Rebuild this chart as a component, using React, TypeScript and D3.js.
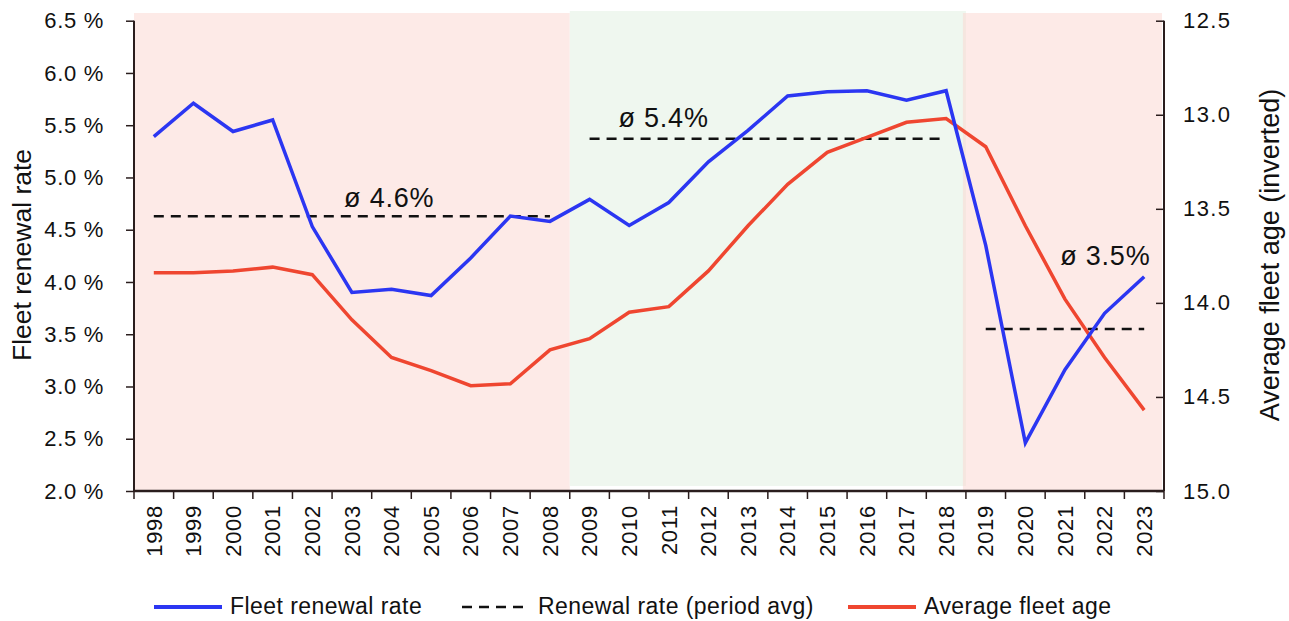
import React, { useEffect, useRef } from 'react';
import * as d3 from 'd3';

// values
const years = ['1998', '1999', '2000', '2001', '2002', '2003', '2004', '2005', '2006', '2007', '2008', '2009', '2010',
  '2011', '2012', '2013', '2014', '2015', '2016', '2017', '2018', '2019', '2020', '2021', '2022', '2023'];
const renewalRate = [5.39, 5.71, 5.44, 5.55, 4.53, 3.90, 3.93, 3.87, 4.23, 4.63, 4.58, 4.79, 4.54,
  4.76, 5.15, 5.45, 5.78, 5.82, 5.83, 5.74, 5.83, 4.35, 2.46, 3.16, 3.70, 4.05];
const fleetAge = [13.84, 13.84, 13.83, 13.81, 13.85, 14.09, 14.29, 14.36, 14.44, 14.43, 14.25, 14.19, 14.05,
  14.02, 13.83, 13.59, 13.37, 13.20, 13.12, 13.04, 13.02, 13.17, 13.59, 13.98, 14.29, 14.57];

const periodStart = ['1998', '2009', '2019'];
const periodEnd = ['2008', '2018', '2023'];
const periodAvg = [4.63, 5.37, 3.55];
const periodLabels = ['ø 4.6%', 'ø 5.4%', 'ø 3.5%'];
const periodShade = ['bad', 'good', 'bad'];

const leftTicks = [2.0, 2.5, 3.0, 3.5, 4.0, 4.5, 5.0, 5.5, 6.0, 6.5];
const rightTicks = [12.5, 13.0, 13.5, 14.0, 14.5, 15.0];

const BLUE = '#2b36f2';
const RED = '#ef4630';
const FONT = '"Liberation Sans", Arial, sans-serif';

const App = () => {
  const ref = useRef<SVGSVGElement>(null);

  useEffect(() => {
    const svg = d3.select(ref.current);
    svg.selectAll('*').remove();

    const left = 134, right = 1164, top = 20.7, bottom = 491;

    const x = d3.scaleBand<string>().domain(years).range([left, right]).padding(0);
    const cx = (d: string) => (x(d) as number) + x.bandwidth() / 2;
    const yL = d3.scaleLinear().domain([2, 6.5]).range([bottom, top]);
    const yR = d3.scaleLinear().domain([12.5, 15]).range([top, bottom]);

    // background shading per period
    const bg = svg.append('g');
    periodStart.forEach((s, i) => {
      const x0 = x(s) as number;
      const x1 = (x(periodEnd[i]) as number) + x.bandwidth();
      const good = periodShade[i] === 'good';
      bg.append('rect')
        .attr('x', i === 2 ? x0 - 3 : x0)
        .attr('y', good ? 11 : 13)
        .attr('width', (i === 2 ? x1 - 2 : x1) - (i === 2 ? x0 - 3 : x0))
        .attr('height', good ? 486 - 11 : bottom - 13)
        .attr('fill', good ? '#eff7ef' : 'rgba(251,213,208,0.5)');
    });

    // axes
    const axisColor = '#2a1d1d';
    const gl = svg.append('g').attr('transform', `translate(${left},0)`)
      .call(d3.axisLeft(yL).tickValues(leftTicks).tickSize(8).tickPadding(22)
        .tickFormat(d => `${(d as number).toFixed(1)} %`));
    const gr = svg.append('g').attr('transform', `translate(${right},0)`)
      .call(d3.axisRight(yR).tickValues(rightTicks).tickSize(-8).tickPadding(19)
        .tickFormat(d => (d as number).toFixed(1)));
    const gb = svg.append('g').attr('transform', `translate(0,${bottom})`)
      .call(d3.axisBottom(x).tickSize(0).tickPadding(0));

    [gl, gr, gb].forEach(g => {
      g.select('.domain').attr('stroke', axisColor).attr('stroke-width', 2);
      g.selectAll('.tick line').attr('stroke', axisColor).attr('stroke-width', 1.5);
      g.selectAll('.tick text').attr('fill', '#111').style('font-family', FONT)
        .style('font-size', '22px').style('letter-spacing', '0.7px');
    });
    gl.select('.domain').attr('d', `M0,${top}V${bottom}`);
    gr.select('.domain').attr('d', `M0,${top}V${bottom}`);
    gr.selectAll('.tick text').style('letter-spacing', '1.4px');
    gb.select('.domain').attr('d', `M${left},0H${right}`).attr('stroke-width', 2.5);

    // band boundary ticks on bottom axis
    gb.selectAll('.bound').data(d3.range(years.length + 1)).enter().append('line')
      .attr('x1', i => left + i * x.bandwidth()).attr('x2', i => left + i * x.bandwidth())
      .attr('y1', 0).attr('y2', 8).attr('stroke', axisColor).attr('stroke-width', 1.5);

    gb.selectAll('.tick text')
      .attr('transform', 'rotate(-90)')
      .attr('x', -14).attr('y', 0).attr('dy', '0.35em')
      .attr('text-anchor', 'end');

    // axis titles
    svg.append('text')
      .attr('transform', `translate(31,255) rotate(-90)`)
      .attr('text-anchor', 'middle')
      .style('font-family', FONT).style('font-size', '26.5px').attr('fill', '#111')
      .text('Fleet renewal rate');
    svg.append('text')
      .attr('transform', `translate(1279,255) rotate(-90)`)
      .attr('text-anchor', 'middle')
      .style('font-family', FONT).style('font-size', '27px').attr('fill', '#111')
      .text('Average fleet age (inverted)');

    // period average dashed lines + labels
    const labelOffset = [{ dx: 12, dy: -9, yr: '2003' }, { dx: 9, dy: -12, yr: '2010' }, { dx: 15, dy: -64, yr: '2021' }];
    periodStart.forEach((s, i) => {
      svg.append('line')
        .attr('x1', cx(s)).attr('x2', cx(periodEnd[i]))
        .attr('y1', yL(periodAvg[i])).attr('y2', yL(periodAvg[i]))
        .attr('stroke', '#111').attr('stroke-width', 2.5).attr('stroke-dasharray', '10,7');
      svg.append('text')
        .attr('x', (x(labelOffset[i].yr) as number) + labelOffset[i].dx)
        .attr('y', yL(periodAvg[i]) + labelOffset[i].dy)
        .style('font-family', FONT).style('font-size', '27px').style('letter-spacing', '0.8px')
        .attr('fill', '#111')
        .text(periodLabels[i]);
    });

    // lines
    const lineRate = d3.line<number>().x((_, i) => cx(years[i])).y(d => yL(d));
    const lineAge = d3.line<number>().x((_, i) => cx(years[i])).y(d => yR(d));
    svg.append('path').datum(fleetAge).attr('d', lineAge)
      .attr('fill', 'none').attr('stroke', RED).attr('stroke-width', 3.5).attr('stroke-linejoin', 'miter');
    svg.append('path').datum(renewalRate).attr('d', lineRate)
      .attr('fill', 'none').attr('stroke', BLUE).attr('stroke-width', 3.5).attr('stroke-linejoin', 'miter');

    // legend
    const legend = [
      { label: 'Fleet renewal rate', color: BLUE, dash: null, x: 154 },
      { label: 'Renewal rate (period avg)', color: '#111', dash: '10,7', x: 462 },
      { label: 'Average fleet age', color: RED, dash: null, x: 848 },
    ];
    const lg = svg.append('g');
    legend.forEach(l => {
      lg.append('line')
        .attr('x1', l.x).attr('x2', l.x + 68).attr('y1', 607).attr('y2', 607)
        .attr('stroke', l.color).attr('stroke-width', l.dash ? 2.5 : 4)
        .attr('stroke-dasharray', l.dash);
      lg.append('text')
        .attr('x', l.x + 76).attr('y', 614)
        .style('font-family', FONT).style('font-size', '23px').style('letter-spacing', '0.45px')
        .attr('fill', '#111')
        .text(l.label);
    });
  }, []);

  return (
    <svg ref={ref} width={1289} height={621}
      style={{ position: 'absolute', left: 0, top: 0, background: '#fff' }} />
  );
};

export default App;
